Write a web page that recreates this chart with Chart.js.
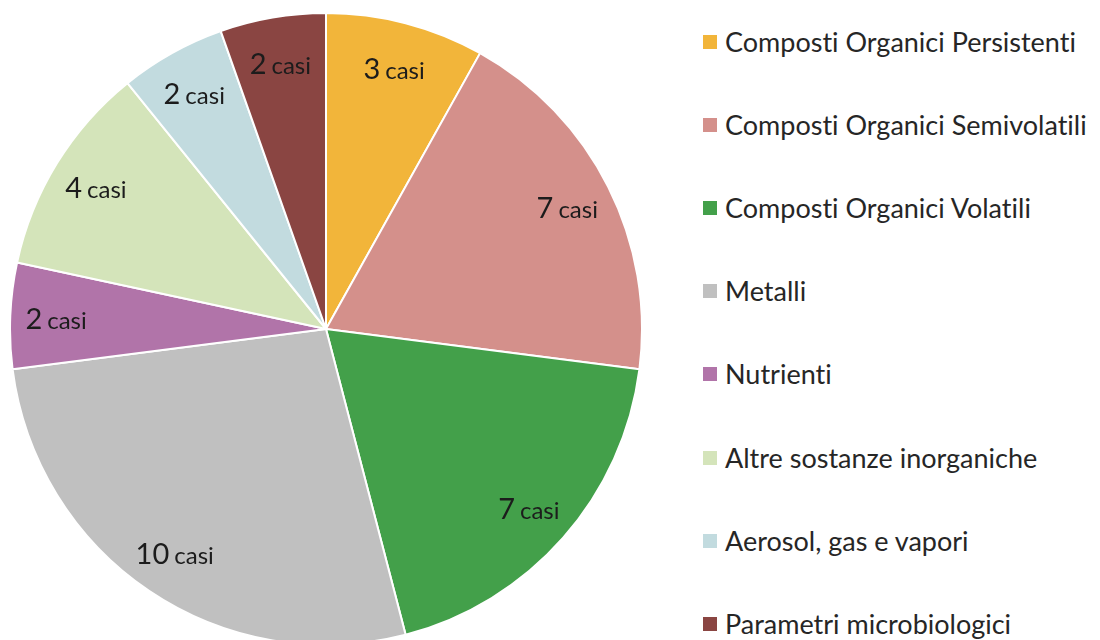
<!DOCTYPE html>
<html>
<head>
<meta charset="utf-8">
<script src="https://cdn.jsdelivr.net/npm/chart.js@4/dist/chart.umd.min.js"></script>
<style>
  html, body { margin: 0; padding: 0; background: #fff; overflow: hidden; }
  body { width: 1100px; height: 640px; position: relative; font-family: Lato, "Open Sans", sans-serif; }
  #pie-wrap { position: absolute; left: 9px; top: 12px; width: 634px; height: 634px; }
  #legend { position: absolute; left: 703px; top: 0; margin: 0; padding: 0; list-style: none; }
  #legend li { position: absolute; left: 0; white-space: nowrap; height: 30px; line-height: 30px;
               font-size: 27px; color: #262626; font-variant-ligatures: none; }
  #legend .sw { position: absolute; left: 0; top: 8px; width: 14px; height: 14px; }
  #legend .tx { position: absolute; left: 22px; top: 0; }
</style>
</head>
<body>
<div id="pie-wrap"><canvas id="chart-casi" width="634" height="634"></canvas></div>
<ul id="legend"></ul>
<script>
var categorie = [
  'Composti Organici Persistenti',
  'Composti Organici Semivolatili',
  'Composti Organici Volatili',
  'Metalli',
  'Nutrienti',
  'Altre sostanze inorganiche',
  'Aerosol, gas e vapori',
  'Parametri microbiologici'
];
var casi = [3, 7, 7, 10, 2, 4, 2, 2];
var colori = ['#f2b53a', '#d4908b', '#43a04a', '#c0c0c0', '#b174a9', '#d4e4ba', '#c2dbdf', '#8a4542'];

(function () {
  var canvas = document.getElementById('chart-casi');
  if (!canvas || typeof Chart === 'undefined') {
    return;
  }

  var fontNum = '29px Lato, "Open Sans", sans-serif';
  var fontCasi = '24px Lato, "Open Sans", sans-serif';

  // etichette "N casi" dentro le fette
  var etichette = {
    id: 'etichetteCasi',
    afterDatasetsDraw: function (chart) {
      var ctx = chart.ctx;
      var meta = chart.getDatasetMeta(0);
      meta.data.forEach(function (arc, i) {
        var p = arc.getProps(['x', 'y', 'startAngle', 'endAngle', 'outerRadius'], true);
        var mid = (p.startAngle + p.endAngle) / 2;
        var r = p.outerRadius * 0.855;
        var cx = p.x + Math.cos(mid) * r;
        var cy = p.y + Math.sin(mid) * r;
        var num = String(casi[i]);
        ctx.save();
        ctx.fillStyle = '#1c1c1c';
        ctx.textBaseline = 'alphabetic';
        ctx.textAlign = 'left';
        ctx.font = fontNum;
        var wNum = ctx.measureText(num).width + 5;
        ctx.font = fontCasi;
        var wCasi = ctx.measureText('casi').width;
        var x0 = cx - (wNum + wCasi) / 2;
        var base = cy + 11;
        ctx.font = fontNum;
        ctx.fillText(num, x0, base);
        ctx.font = fontCasi;
        ctx.fillText('casi', x0 + wNum, base);
        ctx.restore();
      });
    }
  };

  new Chart(canvas, {
    type: 'pie',
    data: {
      labels: categorie,
      datasets: [
        {
          data: casi,
          backgroundColor: colori,
          borderColor: '#fff',
          borderWidth: 2
        }
      ]
    },
    options: {
      responsive: false,
      animation: false,
      layout: { padding: 0 },
      plugins: {
        legend: { display: false },
        tooltip: { enabled: false }
      }
    },
    plugins: [etichette]
  });

  var ul = document.getElementById('legend');
  categorie.forEach(function (nome, i) {
    var li = document.createElement('li');
    li.style.top = (27 + i * 83.1) + 'px';
    li.innerHTML = '<span class="sw" style="background:' + colori[i] + '"></span><span class="tx"></span>';
    li.querySelector('.tx').textContent = nome;
    ul.appendChild(li);
  });
})();
</script>
</body>
</html>
